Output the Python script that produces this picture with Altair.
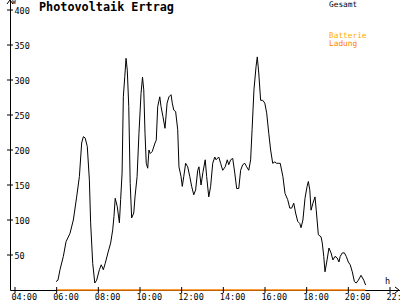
import altair as alt
import pandas as pd

# Gesamt (W) over time of day (decimal hours)
hours = [5.97, 6.06, 6.16, 6.32, 6.45, 6.64, 6.80, 6.96, 7.09, 7.20, 7.28, 7.37, 7.47, 7.57, 7.63,
         7.73, 7.83, 7.92, 8.05, 8.14, 8.24, 8.33, 8.46, 8.59, 8.69, 8.75, 8.81, 8.91, 9.01, 9.07,
         9.14, 9.20, 9.27, 9.33, 9.39, 9.46, 9.53, 9.60, 9.70, 9.76, 9.86, 9.95, 10.05, 10.12, 10.18,
         10.24, 10.30, 10.37, 10.43, 10.49, 10.59, 10.72, 10.78, 10.85, 10.95, 11.01, 11.10, 11.20,
         11.30, 11.39, 11.49, 11.55, 11.62, 11.71, 11.81, 11.87, 11.97, 12.03, 12.10, 12.19, 12.29,
         12.39, 12.48, 12.58, 12.67, 12.77, 12.83, 12.93, 13.02, 13.13, 13.20, 13.30, 13.39, 13.49,
         13.59, 13.65, 13.78, 13.87, 13.97, 14.09, 14.19, 14.26, 14.35, 14.45, 14.55, 14.64, 14.74,
         14.83, 14.93, 15.03, 15.12, 15.22, 15.31, 15.38, 15.47, 15.57, 15.63, 15.70, 15.79, 15.89,
         15.99, 16.08, 16.18, 16.27, 16.37, 16.47, 16.56, 16.64, 16.73, 16.86, 16.96, 17.09, 17.19,
         17.28, 17.38, 17.47, 17.57, 17.67, 17.73, 17.82, 17.92, 18.02, 18.08, 18.15, 18.21, 18.30,
         18.40, 18.46, 18.56, 18.69, 18.75, 18.82, 18.88, 18.98, 19.07, 19.17, 19.26, 19.36, 19.46,
         19.55, 19.61, 19.71, 19.81, 19.90, 20.00, 20.09, 20.19, 20.29, 20.38, 20.48, 20.61, 20.74,
         20.83]
gesamt = [12, 14, 29, 48, 69, 81, 100, 133, 162, 210, 219, 217, 205, 157, 96,
          38, 10, 14, 29, 36, 29, 38, 53, 67, 86, 105, 131, 119, 96, 129,
          167, 276, 305, 331, 314, 262, 152, 103, 110, 133, 162, 224, 281, 304, 286,
          224, 181, 174, 200, 195, 198, 210, 214, 262, 276, 262, 248, 231,
          267, 276, 279, 267, 257, 255, 229, 176, 162, 148, 162, 181, 176,
          162, 148, 136, 143, 171, 176, 150, 168, 186, 162, 133, 148, 181,
          190, 186, 190, 181, 171, 176, 186, 179, 186, 188, 167, 145, 145,
          171, 179, 181, 176, 171, 186, 229, 286, 319, 333, 310, 271, 271,
          267, 253, 224, 200, 181, 183, 181, 181, 181, 162, 138, 129, 117,
          117, 124, 110, 98, 95, 89, 100, 131, 148, 155, 143, 114, 124,
          133, 114, 79, 76, 67, 48, 26, 43, 60, 53, 43, 48, 46, 40,
          48, 53, 53, 48, 40, 36, 26, 12, 10, 14, 21, 14, 7]

ladung_hours = [6.0, 20.81]
ladung = [0, 0]

x_ticks = [4, 6, 8, 10, 12, 14, 16, 18, 20, 22]
y_ticks = [50, 100, 150, 200, 250, 300, 350, 400]

title_text = "Photovoltaik Ertrag"
legend_labels = ["Gesamt", "Batterie", "Ladung"]
legend_colors = ["#000000", "#ffaa00", "#ff8000"]

MONO = "DejaVu Sans Mono"
X_DOM = [3.76, 22.48]
Y_DOM = [0, 414.3]

df = pd.DataFrame({"h": hours, "w": gesamt})
df_lad = pd.DataFrame({"h": ladung_hours, "w": ladung})
df_xt = pd.DataFrame({"h": x_ticks})
df_yt = pd.DataFrame({"w": y_ticks})
one = pd.DataFrame({"a": [0]})

xs = alt.Scale(domain=X_DOM, nice=False, zero=False)
ys = alt.Scale(domain=Y_DOM, nice=False)

x_axis = alt.Axis(values=x_ticks, ticks=False, grid=False, domain=True, domainColor="black",
                  labelExpr="(datum.value < 10 ? '0' : '') + datum.value + ':00'",
                  labelAlign="left", labelOffset=-4, labelPadding=2, labelFont=MONO,
                  labelFontSize=8.5, labelColor="black", title=None, labelFlush=False,
                  labelOverlap=False)
y_axis = alt.Axis(values=y_ticks, ticks=False, grid=False, domain=True, domainColor="black",
                  labelAlign="left", labelPadding=-4, labelFont=MONO, labelFontSize=8.5,
                  labelColor="black", title=None, labelFlush=False, labelOverlap=False)

base_line = alt.Chart(df).mark_line(color="black", strokeWidth=1).encode(
    x=alt.X("h:Q", scale=xs, axis=x_axis),
    y=alt.Y("w:Q", scale=ys, axis=y_axis),
)

lad_line = alt.Chart(df_lad).mark_line(color="#ff8000", strokeWidth=1.5).encode(
    x=alt.X("h:Q", scale=xs),
    y=alt.Y("w:Q", scale=ys),
)

xt = alt.Chart(df_xt).mark_rule(color="black").encode(
    x=alt.X("h:Q", scale=xs), y=alt.value(287), y2=alt.value(293))
yt = alt.Chart(df_yt).mark_rule(color="black").encode(
    y=alt.Y("w:Q", scale=ys), x=alt.value(-3), x2=alt.value(3))

arrows = [
    alt.Chart(one).mark_rule(color="black").encode(x=alt.value(-3), y=alt.value(4), x2=alt.value(0), y2=alt.value(0)),
    alt.Chart(one).mark_rule(color="black").encode(x=alt.value(0), y=alt.value(0), x2=alt.value(3), y2=alt.value(4)),
    alt.Chart(one).mark_rule(color="black").encode(x=alt.value(385), y=alt.value(287), x2=alt.value(389), y2=alt.value(290)),
    alt.Chart(one).mark_rule(color="black").encode(x=alt.value(389), y=alt.value(290), x2=alt.value(385), y2=alt.value(293)),
]

title = alt.Chart(one).mark_text(text=title_text, font=MONO, fontSize=11.8, fontWeight="bold",
                                 align="left", baseline="middle", color="black").encode(
    x=alt.value(29), y=alt.value(7))
w_lab = alt.Chart(one).mark_text(text="W", font=MONO, fontSize=6.5, align="left", baseline="top",
                                 color="black").encode(x=alt.value(2), y=alt.value(-1))
h_lab = alt.Chart(one).mark_text(text="h", font=MONO, fontSize=8.5, align="left", baseline="middle",
                                 color="black").encode(x=alt.value(375), y=alt.value(281))

leg = []
for lab, col, yy in zip(legend_labels, legend_colors, [5, 35.5, 44]):
    leg.append(alt.Chart(one).mark_text(text=lab, font=MONO, fontSize=7.8, align="left",
                                        baseline="middle", color=col).encode(
        x=alt.value(319), y=alt.value(yy)))

chart = alt.layer(base_line, lad_line, xt, yt, *arrows, title, w_lab, h_lab, *leg).properties(
    width=390, height=290,
    autosize=alt.AutoSizeParams(type="none"),
    padding={"left": 10, "top": 0, "right": 0, "bottom": 10},
    background="white",
).configure_view(stroke=None)

chart.save("out.html", embed_options={"renderer": "svg", "actions": False})
